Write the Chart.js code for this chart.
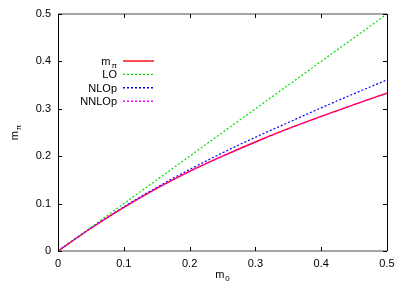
<!DOCTYPE html>
<html>
<head>
<meta charset="utf-8">
<script src="https://cdn.jsdelivr.net/npm/chart.js@4/dist/chart.umd.min.js"></script>
<style>
  html, body { margin: 0; padding: 0; background: #ffffff; }
  #wrap { width: 407px; height: 285px; }
</style>
</head>
<body>
<div id="wrap"><canvas id="chart" width="407" height="285"></canvas></div>
<script>
const m0Values = [0, 0.05, 0.1, 0.15, 0.2, 0.25, 0.3, 0.35, 0.4, 0.45, 0.5];
const mPiValues = [0, 0.048, 0.092, 0.132, 0.168, 0.200, 0.230, 0.258, 0.284, 0.309, 0.333];
const loValues = [0, 0.05, 0.1, 0.15, 0.2, 0.25, 0.3, 0.35, 0.4, 0.45, 0.5];
const nloValues = [0, 0.048, 0.093, 0.134, 0.172, 0.207, 0.240, 0.271, 0.302, 0.332, 0.361];
const nnloValues = [0, 0.048, 0.092, 0.132, 0.168, 0.200, 0.230, 0.258, 0.284, 0.309, 0.333];
const tickValues = [0, 0.1, 0.2, 0.3, 0.4, 0.5];

const FONT = "'Liberation Sans', Arial, Helvetica, sans-serif";

function points(ys) {
  return m0Values.map((x, i) => ({ x, y: ys[i] }));
}

const series = [
  { label: "m", sub: "π", data: mPiValues, color: "rgb(255,0,0)", dash: [], order: 3 },
  { label: "LO", sub: "", data: loValues, color: "rgb(0,220,0)", dash: [2, 2], order: 2 },
  { label: "NLOp", sub: "", data: nloValues, color: "rgb(0,0,255)", dash: [2, 2], order: 1 },
  { label: "NNLOp", sub: "", data: nnloValues, color: "rgb(255,0,255)", dash: [2, 2], order: 0 },
];

function drawSubText(ctx, x, y, main, sub, align) {
  ctx.font = `11px ${FONT}`;
  const wMain = ctx.measureText(main).width;
  ctx.font = `8px ${FONT}`;
  const wSub = sub ? ctx.measureText(sub).width + 1 : 0;
  let start = x;
  if (align === "right") start = x - wMain - wSub;
  if (align === "center") start = x - (wMain + wSub) / 2;
  ctx.textAlign = "left";
  ctx.textBaseline = "alphabetic";
  ctx.font = `11px ${FONT}`;
  ctx.fillText(main, start, y);
  if (sub) {
    ctx.font = `8px ${FONT}`;
    ctx.fillText(sub, start + wMain + 1, y + 3);
  }
}

const framePlugin = {
  id: "frame",
  afterDraw(chart) {
    const { ctx, chartArea: a, scales } = chart;
    ctx.save();
    // frame
    ctx.lineWidth = 1.5;
    ctx.strokeStyle = "#888888";
    ctx.beginPath();
    ctx.moveTo(a.left, a.top); ctx.lineTo(a.right, a.top);
    ctx.moveTo(a.left, a.bottom); ctx.lineTo(a.right, a.bottom);
    ctx.stroke();
    ctx.lineWidth = 1;
    ctx.strokeStyle = "#000000";
    ctx.beginPath();
    ctx.moveTo(a.left + 0.5, a.top); ctx.lineTo(a.left + 0.5, a.bottom);
    ctx.moveTo(a.right + 0.5, a.top); ctx.lineTo(a.right + 0.5, a.bottom);
    ctx.stroke();
    // inward ticks
    ctx.beginPath();
    scales.x.ticks.forEach((t) => {
      const px = Math.round(scales.x.getPixelForValue(t.value)) + 0.5;
      ctx.moveTo(px, a.bottom); ctx.lineTo(px, a.bottom - 4);
      ctx.moveTo(px, a.top); ctx.lineTo(px, a.top + 4);
    });
    scales.y.ticks.forEach((t) => {
      const py = Math.round(scales.y.getPixelForValue(t.value)) + 0.5;
      ctx.moveTo(a.left, py); ctx.lineTo(a.left + 4, py);
      ctx.moveTo(a.right, py); ctx.lineTo(a.right - 4, py);
    });
    ctx.stroke();
    ctx.restore();

    // legend
    series.forEach((s, i) => {
      const y = 61 + i * 13.4;
      ctx.save();
      ctx.fillStyle = "#000000";
      drawSubText(ctx, 117, y + 4, s.label, s.sub, "right");
      ctx.restore();
      ctx.save();
      ctx.strokeStyle = s.color;
      ctx.lineWidth = 1.4;
      ctx.setLineDash(s.dash.slice());
      ctx.beginPath();
      ctx.moveTo(123, y);
      ctx.lineTo(154, y);
      ctx.stroke();
      ctx.restore();
    });

    // axis titles
    ctx.save();
    ctx.fillStyle = "#000000";
    drawSubText(ctx, (a.left + a.right) / 2, 278, "m", "0", "center");
    ctx.translate(18, (a.top + a.bottom) / 2);
    ctx.rotate(-Math.PI / 2);
    drawSubText(ctx, 0, 0, "m", "π", "center");
    ctx.restore();
  },
};

new Chart(document.getElementById("chart"), {
  type: "line",
  data: {
    datasets: series.map((s) => ({
      label: s.label + s.sub,
      data: points(s.data),
      borderColor: s.color,
      borderWidth: s.dash.length ? 1.2 : 1.4,
      borderDash: s.dash,
      pointRadius: 0,
      cubicInterpolationMode: "monotone",
      fill: false,
      order: s.order,
    })),
  },
  options: {
    responsive: false,
    animation: false,
    events: [],
    layout: { padding: { left: 0, top: 14, right: 20, bottom: 0 } },
    plugins: { legend: { display: false }, tooltip: { enabled: false } },
    scales: {
      x: {
        type: "linear",
        min: 0,
        max: 0.5,
        afterFit: (scale) => { scale.height = 34; },
        afterBuildTicks: (scale) => { scale.ticks = tickValues.map((v) => ({ value: v })); },
        grid: { display: false, drawTicks: false },
        border: { display: false },
        ticks: {
          padding: 6,
          color: "#000000",
          font: { family: FONT, size: 11 },
          callback: (v) => String(v),
        },
      },
      y: {
        type: "linear",
        min: 0,
        max: 0.5,
        afterFit: (scale) => { scale.width = 58; },
        afterBuildTicks: (scale) => { scale.ticks = tickValues.map((v) => ({ value: v })); },
        grid: { display: false, drawTicks: false },
        border: { display: false },
        ticks: {
          padding: 7,
          color: "#000000",
          font: { family: FONT, size: 11 },
          callback: (v) => String(v),
        },
      },
    },
  },
  plugins: [framePlugin],
});
</script>
</body>
</html>
